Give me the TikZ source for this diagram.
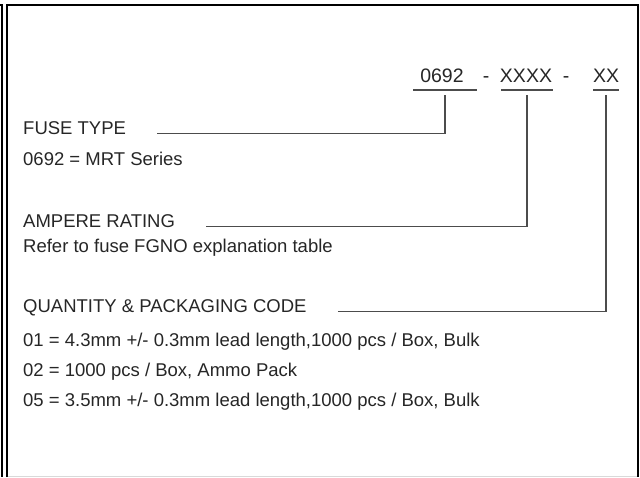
\documentclass[tikz,border=0pt]{standalone}
\usepackage{fontspec}
\setmainfont{Liberation Sans}
\usetikzlibrary{positioning,calc}
\tikzstyle{l1}=[line width=1.3pt, draw=black!70]
\tikzstyle{frame}=[line width=2pt, draw=black]
\tikzstyle{head}=[inner sep=0pt, anchor=base west, text=black!85, font=\fontsize{18.5}{20}\selectfont]
\tikzstyle{info}=[head]
\tikzstyle{code}=[inner sep=0pt, anchor=base, text=black!85, font=\fontsize{19.5}{22}\selectfont]

\begin{document}
\begin{tikzpicture}[x=1pt, y=-1pt, node distance=30pt, on grid]
    \useasboundingbox (0,0) rectangle (640,477);

    % frame
    \draw[frame] (0,5) -- (2,5) -- (2,477);
    \draw[frame] (6.5,477) -- (6.5,5) -- (637.5,5) -- (637.5,477);
    \draw[black!15, line width=1pt] (7.5,476.5) -- (636.5,476.5);

    % part number
    \node (n0692) [code] at (442,82.5) {0692};
    \node (d1)    [code] at (486,82.5) {-};
    \node (nX4)   [code] at (526,82.5) {XXXX};
    \node (d2)    [code] at (566,82.5) {-};
    \node (nX2)   [code] at (606,82.5) {XX};
    \draw[l1] (413,90) -- (477,90);
    \draw[l1] (501,90) -- (553,90);
    \draw[l1] (593,90) -- (619,90);
    \coordinate (t0692) at (445,95);
    \coordinate (tX4)   at (527,95);
    \coordinate (tX2)   at (606,95);

    % fields
    \node (fuse) [head] at (23,134.5) {FUSE TYPE};
    \node (fuseinfo) [info, below=30.5pt of fuse.base west, anchor=base west] {0692 = MRT Series};

    \node (amp) [head] at (23,227.5) {AMPERE RATING};
    \node (ampinfo) [info, below=25pt of amp.base west, anchor=base west] {Refer to fuse FGNO explanation table};

    \node (qty) [head] at (23,312.5) {QUANTITY \& PACKAGING CODE};
    \node (q01) [info, below=34pt of qty.base west, anchor=base west] {01 = 4.3mm +/- 0.3mm lead length,1000 pcs / Box, Bulk};
    \node (q02) [info, below=30pt of q01.base west, anchor=base west] {02 = 1000 pcs / Box, Ammo Pack};
    \node (q05) [info, below=30pt of q02.base west, anchor=base west] {05 = 3.5mm +/- 0.3mm lead length,1000 pcs / Box, Bulk};

    \draw[l1] ([xshift=31pt, yshift=-1.5pt]fuse.mid east) -| (t0692);
    \draw[l1] ([xshift=31pt, yshift=-1.5pt]amp.mid east) -| (tX4);
    \draw[l1] ([xshift=31pt, yshift=-1.5pt]qty.mid east) -| (tX2);

\end{tikzpicture}
\end{document}
